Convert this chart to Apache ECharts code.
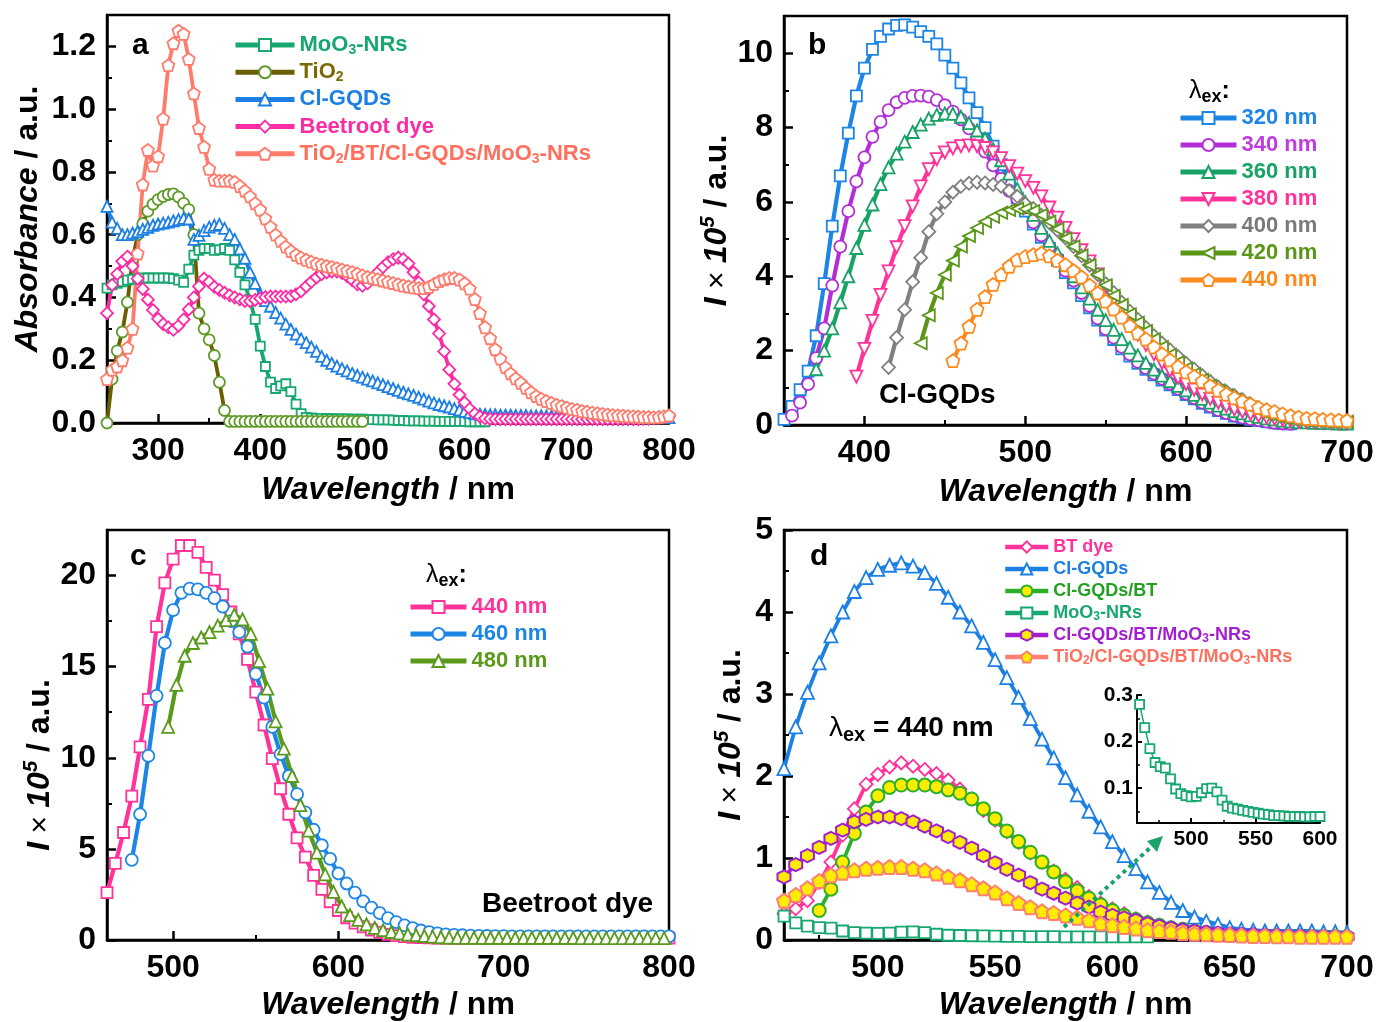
<!DOCTYPE html>
<html>
<head>
<meta charset="utf-8">
<title>Absorbance and PL spectra</title>
<script src="https://cdn.jsdelivr.net/npm/echarts@6.0.0/dist/echarts.min.js"></script>
<style>
  html, body { margin: 0; padding: 0; background: #fff; }
  #chart { width: 1377px; height: 1022px; }
</style>
</head>
<body>
<div id="chart"></div>
<script>
const FONT = "'Liberation Sans', Arial, Helvetica, sans-serif";
const seq = (start, step, vals) => vals.map((v, i) => [start + i * step, v]);

// ---- a: absorbance, 5 nm step ----
const absStart = 250, absStep = 5;
const absMoO3 = [
  0.43,0.44,0.445,0.45,0.455,0.458,0.46,0.462,0.462,0.462,
  0.462,0.462,0.462,0.46,0.455,0.448,0.49,0.535,0.55,0.556,
  0.556,0.55,0.552,0.556,0.55,0.52,0.48,0.44,0.39,0.33,
  0.245,0.18,0.13,0.11,0.118,0.125,0.10,0.06,0.03,0.018,
  0.016,0.015,0.015,0.014,0.014,0.013,0.013,0.013,0.012,0.012,
  0.012,0.011,0.011,0.01,0.01,0.01,0.009,0.008,0.008,0.007,
  0.007,0.007,0.006,0.006,0.006,0.005,0.005,0.005,0.005,0.005,
  0.005,0.004,0.004,0.004,0.004];
const absTiO2 = [
  0.0,0.14,0.23,0.29,0.385,0.52,0.60,0.635,0.675,0.697,
  0.712,0.722,0.728,0.73,0.72,0.70,0.68,0.60,0.35,0.30,
  0.265,0.215,0.13,0.04,0.005,0.005,0.005,0.005,0.005,0.005,
  0.005,0.005,0.005,0.005,0.005,0.005,0.005,0.005,0.005,0.005,
  0.005,0.005,0.005,0.005,0.005,0.005,0.005,0.005,0.005,0.005,
  0.005];
const absGQD = [
  0.69,0.64,0.62,0.60,0.60,0.605,0.61,0.617,0.623,0.63,
  0.634,0.637,0.64,0.644,0.648,0.652,0.65,0.585,0.598,0.613,
  0.624,0.63,0.633,0.62,0.60,0.585,0.555,0.525,0.48,0.445,
  0.41,0.39,0.372,0.352,0.334,0.315,0.298,0.283,0.268,0.256,
  0.242,0.228,0.212,0.2,0.19,0.181,0.173,0.166,0.158,0.152,
  0.146,0.14,0.134,0.128,0.122,0.116,0.11,0.104,0.098,0.093,
  0.088,0.082,0.076,0.07,0.064,0.059,0.055,0.051,0.046,0.042,
  0.037,0.033,0.03,0.028,0.027,0.026,0.026,0.025,0.025,0.025,
  0.024,0.024,0.024,0.023,0.023,0.023,0.022,0.022,0.022,0.022,
  0.021,0.021,0.021,0.02,0.02,0.02,0.02,0.019,0.019,0.019,
  0.019,0.018,0.018,0.018,0.018,0.018,0.017,0.017,0.017,0.017,
  0.017];
const absBeet = [
  0.35,0.44,0.475,0.515,0.53,0.50,0.46,0.427,0.393,0.36,
  0.332,0.315,0.305,0.297,0.31,0.33,0.362,0.40,0.435,0.46,
  0.45,0.434,0.424,0.415,0.407,0.40,0.394,0.389,0.388,0.392,
  0.397,0.401,0.403,0.403,0.403,0.403,0.404,0.41,0.42,0.435,
  0.45,0.464,0.474,0.48,0.483,0.483,0.478,0.468,0.455,0.442,
  0.437,0.445,0.462,0.48,0.497,0.512,0.522,0.527,0.522,0.508,
  0.48,0.448,0.41,0.372,0.33,0.285,0.228,0.17,0.125,0.09,
  0.065,0.045,0.03,0.02,0.015,0.013,0.012,0.012,0.012,0.012,
  0.012,0.012,0.012,0.012,0.012,0.012,0.012,0.012,0.012,0.012,
  0.012,0.012,0.012,0.012,0.012,0.012,0.012,0.012,0.012,0.012,
  0.012,0.012,0.012,0.012,0.012,0.013,0.014,0.015,0.017,0.019,
  0.022];
const absComposite = [
  0.14,0.17,0.18,0.20,0.24,0.30,0.54,0.76,0.87,0.82,
  0.85,0.97,1.14,1.21,1.25,1.24,1.16,1.05,0.94,0.88,
  0.81,0.775,0.772,0.772,0.772,0.768,0.755,0.74,0.722,0.70,
  0.68,0.652,0.625,0.60,0.58,0.562,0.548,0.536,0.527,0.52,
  0.514,0.508,0.504,0.50,0.497,0.493,0.489,0.485,0.481,0.476,
  0.47,0.465,0.462,0.458,0.454,0.45,0.446,0.442,0.438,0.435,
  0.432,0.43,0.43,0.434,0.443,0.452,0.458,0.462,0.462,0.457,
  0.445,0.428,0.395,0.35,0.305,0.27,0.235,0.205,0.178,0.158,
  0.142,0.128,0.112,0.098,0.086,0.077,0.07,0.064,0.058,0.054,
  0.049,0.045,0.042,0.038,0.036,0.033,0.031,0.029,0.027,0.025,
  0.024,0.023,0.022,0.021,0.02,0.019,0.019,0.018,0.019,0.021,
  0.024];

// ---- b: Cl-GQDs PL, 5 nm step ----
const gqdStarts = [350, 355, 370, 395, 415, 435, 455];
const gqd320 = [
  0.15,0.5,0.95,1.45,2.4,3.8,5.35,6.7,7.85,8.85,
  9.6,10.1,10.45,10.65,10.75,10.76,10.7,10.58,10.45,10.25,
  9.95,9.6,9.2,8.8,8.4,8.0,7.5,7.0,6.55,6.1,
  5.75,5.4,5.05,4.75,4.43,4.1,3.82,3.48,3.15,2.82,
  2.55,2.3,2.05,1.85,1.66,1.5,1.35,1.21,1.08,0.95,
  0.82,0.7,0.58,0.48,0.39,0.31,0.24,0.19,0.15,0.12,
  0.09,0.06,0.04,0.03];
const gqd340 = [
  0.25,0.6,1.1,1.8,2.6,3.75,4.8,5.75,6.55,7.2,
  7.75,8.15,8.47,8.68,8.8,8.85,8.86,8.83,8.74,8.6,
  8.43,8.22,7.98,7.7,7.35,6.98,6.62,6.3,6.08,5.85,
  5.45,5.1,4.8,4.48,4.15,3.88,3.55,3.2,2.87,2.58,
  2.35,2.1,1.9,1.7,1.53,1.38,1.24,1.11,0.97,0.84,
  0.72,0.6,0.5,0.4,0.32,0.25,0.2,0.16,0.13,0.09,
  0.06,0.04,0.03];
const gqd360 = [
  1.5,2.0,2.6,3.3,4.0,4.76,5.38,5.93,6.48,6.93,
  7.3,7.62,7.88,8.08,8.24,8.34,8.38,8.37,8.29,8.12,
  7.92,7.7,7.42,7.12,6.76,6.35,6.0,5.65,5.3,4.95,
  4.62,4.3,4.0,3.7,3.4,3.1,2.82,2.56,2.31,2.08,
  1.87,1.67,1.49,1.33,1.18,1.05,0.93,0.81,0.7,0.6,
  0.52,0.44,0.37,0.31,0.26,0.22,0.18,0.15,0.12,0.1,
  0.08,0.07,0.06,0.05,0.05,0.04,0.04];
const gqd380 = [
  1.3,2.05,2.8,3.5,4.13,4.78,5.35,5.88,6.42,6.88,
  7.15,7.33,7.44,7.5,7.52,7.5,7.45,7.33,7.18,6.96,
  6.76,6.56,6.38,6.15,5.85,5.58,5.3,5.0,4.7,4.4,
  4.05,3.7,3.35,3.02,2.72,2.43,2.15,1.9,1.67,1.46,
  1.27,1.1,0.95,0.82,0.7,0.6,0.5,0.42,0.35,0.29,
  0.24,0.2,0.16,0.13,0.11,0.09,0.08,0.07,0.06,0.05,
  0.05,0.05];
const gqd400 = [
  1.55,2.35,3.1,3.85,4.5,5.2,5.68,6.0,6.26,6.42,
  6.5,6.53,6.51,6.47,6.42,6.3,6.15,5.95,5.82,5.64,
  5.44,5.24,5.03,4.8,4.55,4.3,4.05,3.8,3.56,3.3,
  3.06,2.84,2.62,2.4,2.2,2.02,1.84,1.66,1.5,1.33,
  1.17,1.02,0.9,0.79,0.68,0.57,0.47,0.38,0.31,0.25,
  0.2,0.17,0.14,0.12,0.1,0.09,0.09,0.09];
const gqd420 = [
  2.2,2.95,3.55,4.04,4.42,4.8,5.08,5.3,5.47,5.6,
  5.71,5.78,5.82,5.81,5.76,5.65,5.47,5.27,5.02,4.8,
  4.56,4.3,4.04,3.76,3.48,3.23,2.98,2.75,2.53,2.31,
  2.1,1.89,1.69,1.52,1.37,1.22,1.06,0.93,0.8,0.68,
  0.57,0.47,0.38,0.31,0.25,0.2,0.16,0.14,0.12,0.11,
  0.1,0.09,0.09,0.09];
const gqd440 = [
  1.73,2.2,2.65,3.11,3.45,3.78,4.05,4.27,4.44,4.53,
  4.58,4.62,4.55,4.43,4.31,4.15,3.98,3.76,3.55,3.33,
  3.12,2.9,2.67,2.47,2.31,2.1,1.91,1.75,1.57,1.43,
  1.31,1.18,1.05,0.94,0.83,0.73,0.64,0.56,0.47,0.41,
  0.36,0.3,0.25,0.21,0.18,0.17,0.15,0.14,0.13,0.12];

// ---- c: beetroot dye PL, 5 nm step ----
const btStarts = [460, 475, 497];
const bt440 = [
  2.6,4.2,5.9,7.9,10.6,13.2,17.2,19.6,20.9,21.65,
  21.65,21.27,20.45,19.75,18.95,18.0,16.8,15.4,13.6,11.8,
  9.95,8.3,6.9,5.6,4.55,3.55,2.78,2.1,1.62,1.22,
  0.93,0.72,0.55,0.42,0.31,0.24,0.19,0.15,0.13,0.12,
  0.11,0.1,0.1,0.1,0.1,0.1,0.1,0.1,0.1,0.1,
  0.1,0.1,0.1,0.1,0.1,0.1,0.1,0.1,0.1,0.1,
  0.1,0.1,0.1,0.1,0.1,0.1,0.1,0.1,0.1];
const bt460 = [
  4.4,6.9,10.1,13.4,16.3,18.1,19.05,19.28,19.24,19.05,
  18.76,18.3,17.5,16.9,16.1,14.6,13.3,11.7,10.2,9.0,
  8.0,7.0,6.05,5.2,4.45,3.65,3.1,2.6,2.12,1.78,
  1.48,1.2,0.98,0.8,0.65,0.52,0.43,0.36,0.31,0.28,
  0.26,0.24,0.23,0.22,0.21,0.21,0.2,0.2,0.2,0.2,
  0.2,0.2,0.2,0.2,0.2,0.2,0.2,0.2,0.2,0.2,
  0.2,0.2,0.2,0.2,0.2,0.2];
const bt480 = [
  11.7,14.0,15.6,16.3,16.6,16.9,17.25,17.55,17.85,17.6,
  16.8,15.3,13.8,12.0,10.5,9.0,7.4,6.0,4.8,3.6,
  2.64,1.85,1.37,1.1,0.86,0.67,0.54,0.44,0.36,0.3,
  0.26,0.22,0.18,0.15,0.13,0.12,0.12,0.12,0.11,0.11,
  0.11,0.11,0.11,0.11,0.11,0.11,0.11,0.11,0.11,0.11,
  0.1,0.1,0.1,0.1,0.1,0.1,0.1,0.1,0.1,0.1,
  0.1];

// ---- d: PL of the components at 440 nm excitation, 5 nm step ----
const mixStarts = [460, 460, 475, 460, 460, 460];
const mixBT = [
  0.32,0.38,0.48,0.7,0.95,1.28,1.6,1.9,2.02,2.11,
  2.16,2.12,2.08,2.03,1.95,1.84,1.72,1.58,1.46,1.32,
  1.19,1.06,0.95,0.84,0.74,0.64,0.53,0.45,0.38,0.32,
  0.26,0.22,0.18,0.15,0.13,0.11,0.1,0.085,0.075,0.07,
  0.065,0.06,0.06,0.055,0.05,0.05,0.045,0.045,0.04];
const mixGQD = [
  2.09,2.6,3.02,3.38,3.71,4.0,4.25,4.42,4.52,4.57,
  4.6,4.56,4.48,4.35,4.18,4.0,3.83,3.63,3.42,3.2,
  2.96,2.7,2.45,2.22,1.98,1.77,1.57,1.38,1.2,1.03,
  0.87,0.71,0.58,0.46,0.36,0.28,0.23,0.19,0.15,0.13,
  0.12,0.11,0.11,0.11,0.11,0.11,0.1,0.1,0.09];
const mixGQDBT = [
  0.36,0.62,0.95,1.3,1.56,1.76,1.86,1.89,1.89,1.89,
  1.87,1.83,1.79,1.72,1.6,1.48,1.33,1.2,1.07,0.95,
  0.83,0.71,0.6,0.51,0.43,0.36,0.3,0.25,0.21,0.18,
  0.15,0.13,0.11,0.09,0.075,0.065,0.06,0.055,0.05,0.05,
  0.045,0.045,0.04,0.04,0.04,0.04];
const mixMoO3 = [
  0.29,0.21,0.17,0.15,0.145,0.11,0.09,0.084,0.081,0.085,
  0.097,0.1,0.09,0.07,0.058,0.055,0.052,0.05,0.048,0.045,
  0.043,0.041,0.041,0.04,0.039,0.039,0.038,0.039,0.039,0.038,
  0.038,0.037];
const mixTernary = [
  0.77,0.92,1.03,1.13,1.24,1.34,1.44,1.47,1.5,1.5,
  1.48,1.44,1.39,1.33,1.26,1.19,1.12,1.03,0.94,0.86,
  0.79,0.7,0.62,0.57,0.51,0.45,0.4,0.34,0.3,0.27,
  0.24,0.2,0.17,0.145,0.125,0.11,0.095,0.085,0.075,0.07,
  0.065,0.06,0.055,0.05,0.05,0.045,0.045,0.04,0.04];
const mixQuaternary = [
  0.48,0.55,0.63,0.72,0.79,0.82,0.85,0.87,0.88,0.89,
  0.89,0.87,0.85,0.81,0.77,0.73,0.68,0.63,0.58,0.51,
  0.45,0.4,0.35,0.33,0.3,0.27,0.24,0.2,0.18,0.16,
  0.14,0.12,0.11,0.1,0.085,0.075,0.07,0.065,0.06,0.055,
  0.05,0.05,0.045,0.045,0.04,0.04,0.04,0.04,0.04];

// inset: MoO3-NRs PL, 4 nm step
const insetStart = 460, insetStep = 4;
const insetMoO3 = [
  0.28,0.23,0.185,0.155,0.146,0.143,0.12,0.098,0.088,0.084,
  0.081,0.082,0.09,0.099,0.1,0.092,0.074,0.061,0.057,0.055,
  0.052,0.05,0.048,0.046,0.044,0.043,0.041,0.041,0.04,0.039,
  0.039,0.039,0.038,0.038,0.039,0.039];

// ---- axes: panels a, b, c, d, inset ----
const xRanges = [[250, 800], [350, 700], [460, 800], [460, 700], [458, 600]];
const yRanges = [[0, 1.3], [0, 11], [0, 22.5], [0, 5], [0.025, 0.3]];
const xMajor = [[300,400,500,600,700,800], [400,500,600,700], [500,600,700,800], [500,550,600,650,700], [500,550,600]];
const xMinor = [[350,450,550,650,750], [450,550,650], [550,650,750], [475,525,575,625,675], [475,525,575]];
const yMajor = [[0,0.2,0.4,0.6,0.8,1.0,1.2], [0,2,4,6,8,10], [0,5,10,15,20], [0,1,2,3,4,5], [0.1,0.2,0.3]];
const yMinor = [[0.1,0.3,0.5,0.7,0.9,1.1], [1,3,5,7,9], [2.5,7.5,12.5,17.5], [0.5,1.5,2.5,3.5,4.5], [0.05,0.15,0.25]];

const RECTS = [
  {left: 107, top: 15, width: 562, height: 408},
  {left: 784, top: 16, width: 563, height: 409},
  {left: 107, top: 530, width: 562, height: 410},
  {left: 784, top: 530, width: 563, height: 410},
  {left: 1137, top: 695, width: 183, height: 128}
];

const titleRich = {
  i: {fontFamily: FONT, fontSize: 32, fontWeight: 'bold', fontStyle: 'italic', lineHeight: 38, color: '#000'},
  n: {fontFamily: FONT, fontSize: 32, fontWeight: 'bold', lineHeight: 38, color: '#000'},
  x: {fontFamily: FONT, fontSize: 30, fontWeight: 'normal', lineHeight: 38, color: '#000'},
  p: {fontFamily: FONT, fontSize: 20, fontWeight: 'bold', fontStyle: 'italic', lineHeight: 18, verticalAlign: 'top', color: '#000'}
};
const X_NAME = '{i|Wavelength}{n| / nm}';
const PL_NAME = '{i|I}{x| × }{i|10}{p|5}{n| / a.u.}';
const yNames = ['{i|Absorbance}{n| / a.u.}', PL_NAME, PL_NAME, PL_NAME];
const xGaps = [48, 48, 46, 46];
const yGaps = [60, 34, 46, 34];
const yPads = [0, 0, [0, 60, 0, 0], 0];

const grids = [];
RECTS.forEach((r, p) => grids.push(Object.assign({show: p < 4, borderColor: '#000', borderWidth: 2.5,
  backgroundColor: 'transparent', containLabel: false, outerBoundsMode: 'none'}, r)));
RECTS.forEach(r => grids.push(Object.assign({show: false, containLabel: false, outerBoundsMode: 'none'}, r)));

const xAxes = [], yAxes = [];
const fmt1 = v => v.toFixed(1);
for (let p = 0; p < 5; p++) {
  const small = p === 4;
  const lw = small ? 2 : 2.5;
  const label = {customValues: xMajor[p], margin: small ? 6 : 12, color: '#000',
    fontSize: small ? 21 : 32, fontWeight: 'bold', fontFamily: FONT};
  xAxes.push({
    type: 'value', gridIndex: p, min: xRanges[p][0], max: xRanges[p][1], position: 'bottom',
    axisLine: {show: true, onZero: false, lineStyle: {color: '#000', width: lw}},
    axisTick: {show: true, inside: true, length: small ? 5 : 9, customValues: xMajor[p], lineStyle: {color: '#000', width: lw}},
    axisLabel: label, splitLine: {show: false},
    name: small ? '' : X_NAME, nameLocation: 'middle', nameGap: xGaps[p] || 0,
    nameTextStyle: {rich: titleRich}
  });
  yAxes.push({
    type: 'value', gridIndex: p, min: yRanges[p][0], max: yRanges[p][1], position: 'left',
    axisLine: {show: true, onZero: false, lineStyle: {color: '#000', width: lw}},
    axisTick: {show: true, inside: true, length: small ? 5 : 9, customValues: yMajor[p], lineStyle: {color: '#000', width: lw}},
    axisLabel: {customValues: yMajor[p], margin: small ? 4 : 11, color: '#000',
      fontSize: small ? 21 : 32, fontWeight: 'bold', fontFamily: FONT,
      formatter: (p === 0 || p === 4) ? fmt1 : null},
    splitLine: {show: false},
    name: small ? '' : yNames[p], nameLocation: 'middle', nameGap: yGaps[p] || 0, nameRotate: 90,
    nameTextStyle: {rich: titleRich, padding: yPads[p] || 0}
  });
}
// minor ticks on twin grids
for (let p = 0; p < 5; p++) {
  const small = p === 4;
  const tick = vals => ({show: true, inside: true, length: small ? 3 : 5, customValues: vals,
    lineStyle: {color: '#000', width: small ? 1.5 : 2}});
  xAxes.push({type: 'value', gridIndex: p + 5, min: xRanges[p][0], max: xRanges[p][1], position: 'bottom',
    axisLine: {show: false}, axisLabel: {show: false}, splitLine: {show: false}, axisTick: tick(xMinor[p])});
  yAxes.push({type: 'value', gridIndex: p + 5, min: yRanges[p][0], max: yRanges[p][1], position: 'left',
    axisLine: {show: false}, axisLabel: {show: false}, splitLine: {show: false}, axisTick: tick(yMinor[p])});
}

// ---- symbols ----
const PENT = 'path://M0,-1L0.951,-0.309L0.588,0.809L-0.588,0.809L-0.951,-0.309Z';
const HEX = 'path://M0,-1L0.866,-0.5L0.866,0.5L0,1L-0.866,0.5L-0.866,-0.5Z';
const TRI_DOWN = 'path://M-1,-1L1,-1L0,1Z';
const TRI_LEFT = 'path://M-1,0L1,-1L1,1Z';

function line(name, axis, pts, color, symbol, size, o) {
  o = o || {};
  return {
    type: 'line', name: name, xAxisIndex: axis, yAxisIndex: axis, data: pts,
    symbol: symbol, symbolSize: size, showSymbol: true,
    lineStyle: {color: o.line || color, width: o.lw || 3.8},
    itemStyle: {color: o.fill || '#fff', borderColor: color, borderWidth: o.bw || 1.8},
    emphasis: {disabled: true}, animation: false, silent: true
  };
}

const YEL = '#ffec00';
const series = [
  line('a:MoO_3-NRs', 0, seq(absStart, absStep, absMoO3), '#17a870', 'rect', 9),
  line('a:TiO_2', 0, seq(absStart, absStep, absTiO2), '#5e9a28', 'circle', 11, {line: '#6b5e00'}),
  line('a:Cl-GQDs', 0, seq(absStart, absStep, absGQD), '#1c7fe3', 'triangle', 11),
  line('a:Beetroot dye', 0, seq(absStart, absStep, absBeet), '#fb2ca4', 'diamond', 12),
  line('a:TiO_2/BT/Cl-GQDs/MoO_3-NRs', 0, seq(absStart, absStep, absComposite), '#ff7b6b', PENT, 12),

  line('b:320 nm', 1, seq(gqdStarts[0], 5, gqd320), '#1c85e6', 'rect', 11, {lw: 4.2}),
  line('b:340 nm', 1, seq(gqdStarts[1], 5, gqd340), '#b22fd8', 'circle', 12, {lw: 4.2}),
  line('b:360 nm', 1, seq(gqdStarts[2], 5, gqd360), '#17a266', 'triangle', 12, {lw: 4.2}),
  line('b:380 nm', 1, seq(gqdStarts[3], 5, gqd380), '#ff3399', TRI_DOWN, 12, {lw: 4.2}),
  line('b:400 nm', 1, seq(gqdStarts[4], 5, gqd400), '#808080', 'diamond', 13, {lw: 4.2}),
  line('b:420 nm', 1, seq(gqdStarts[5], 5, gqd420), '#5a9618', TRI_LEFT, 12, {lw: 4.2}),
  line('b:440 nm', 1, seq(gqdStarts[6], 5, gqd440), '#ff8a1c', PENT, 13, {lw: 4.2}),

  line('c:440 nm', 2, seq(btStarts[0], 5, bt440), '#ff3399', 'rect', 11, {lw: 4.2}),
  line('c:460 nm', 2, seq(btStarts[1], 5, bt460), '#1c86e6', 'circle', 12, {lw: 4.2}),
  line('c:480 nm', 2, seq(btStarts[2], 5, bt480), '#5a9a1a', 'triangle', 12, {lw: 4.2}),

  line('d:BT dye', 3, seq(mixStarts[0], 5, mixBT), '#ff3399', 'diamond', 13),
  line('d:Cl-GQDs', 3, seq(mixStarts[1], 5, mixGQD), '#1c7fe3', 'triangle', 13),
  line('d:Cl-GQDs/BT', 3, seq(mixStarts[2], 5, mixGQDBT), '#2cb02c', 'circle', 13, {fill: YEL, bw: 2}),
  line('d:MoO_3-NRs', 3, seq(mixStarts[3], 5, mixMoO3), '#17a870', 'rect', 11),
  line('d:Cl-GQDs/BT/MoO_3-NRs', 3, seq(mixStarts[4], 5, mixTernary), '#a21fd0', HEX, 13, {fill: YEL, bw: 2}),
  line('d:TiO_2/Cl-GQDs/BT/MoO_3-NRs', 3, seq(mixStarts[5], 5, mixQuaternary), '#ff8070', PENT, 14, {fill: YEL, bw: 2}),

  line('inset:MoO_3-NRs', 4, seq(insetStart, insetStep, insetMoO3), '#17a870', 'rect', 9, {lw: 1.5})
];

// ---- legends ----
function legendFor(entries, left, top, fontSize, lineH, gap, iconW, iconH, iconLine) {
  const rich = {}, text = {};
  entries.forEach((e, k) => {
    const base = {color: e.color, fontFamily: FONT, fontWeight: 'bold'};
    rich['t' + k] = Object.assign({fontSize: fontSize, lineHeight: lineH}, base);
    rich['s' + k] = Object.assign({fontSize: Math.round(fontSize * 0.64), lineHeight: Math.round(lineH * 0.35), verticalAlign: 'bottom'}, base);
    const label = e.name.slice(e.name.indexOf(':') + 1);
    text[e.name] = label.split(/(_\d)/).filter(s => s).map(s =>
      s[0] === '_' ? '{s' + k + '|' + s.slice(1) + '}' : '{t' + k + '|' + s + '}').join('');
  });
  return {
    show: true, orient: 'vertical', left: left, top: top, padding: 0, itemGap: gap,
    itemWidth: iconW, itemHeight: iconH, selectedMode: false,
    lineStyle: {width: iconLine},
    data: entries.map(e => e.name), formatter: n => text[n],
    textStyle: {fontFamily: FONT, fontSize: fontSize, fontWeight: 'bold', lineHeight: lineH, rich: rich}
  };
}
const legends = [
  legendFor([
    {name: 'a:MoO_3-NRs', color: '#17a870'},
    {name: 'a:TiO_2', color: '#7a6800'},
    {name: 'a:Cl-GQDs', color: '#1c7fe3'},
    {name: 'a:Beetroot dye', color: '#fb2ca4'},
    {name: 'a:TiO_2/BT/Cl-GQDs/MoO_3-NRs', color: '#ff6f5e'}
  ], 233, 33, 22, 24, 3.2, 59, 15, 5),
  legendFor([
    {name: 'b:320 nm', color: '#1c85e6'},
    {name: 'b:340 nm', color: '#c03ce0'},
    {name: 'b:360 nm', color: '#17a266'},
    {name: 'b:380 nm', color: '#ff3399'},
    {name: 'b:400 nm', color: '#7a7a7a'},
    {name: 'b:420 nm', color: '#5a9618'},
    {name: 'b:440 nm', color: '#ff8a1c'}
  ], 1178, 106, 22, 24, 3, 56, 15, 5),
  legendFor([
    {name: 'c:440 nm', color: '#ff3399'},
    {name: 'c:460 nm', color: '#1c86e6'},
    {name: 'c:480 nm', color: '#5a9a1a'}
  ], 408, 595, 22, 24, 3, 56, 15, 5),
  legendFor([
    {name: 'd:BT dye', color: '#ff3399'},
    {name: 'd:Cl-GQDs', color: '#1c7fe3'},
    {name: 'd:Cl-GQDs/BT', color: '#22a022'},
    {name: 'd:MoO_3-NRs', color: '#17a870'},
    {name: 'd:Cl-GQDs/BT/MoO_3-NRs', color: '#a21fd0'},
    {name: 'd:TiO_2/Cl-GQDs/BT/MoO_3-NRs', color: '#ff6f5e'}
  ], 1003, 537, 18, 20, 2, 43, 14, 4.5)
];

// ---- texts and arrow ----
function label(x, y, text, size) {
  return {type: 'text', x: x, y: y, z: 100, silent: true,
    style: {text: text, fill: '#000', font: 'bold ' + size + 'px ' + FONT, align: 'left', verticalAlign: 'middle'}};
}
function lambdaEx(x, y, tail, size) {
  const sub = Math.round(size * 0.72);
  return {type: 'text', x: x, y: y, z: 100, silent: true,
    style: {text: '{l|λ}{s|ex}{t|' + tail + '}', align: 'left', verticalAlign: 'middle', fill: '#000',
      rich: {
        l: {fontFamily: FONT, fontSize: size, fontWeight: 'normal', lineHeight: size + 6, fill: '#000'},
        s: {fontFamily: FONT, fontSize: sub, fontWeight: 'bold', lineHeight: 12, verticalAlign: 'bottom', fill: '#000'},
        t: {fontFamily: FONT, fontSize: size, fontWeight: 'bold', lineHeight: size + 6, fill: '#000'}
      }}};
}
const ARROW = '#1aa36a';
const graphics = [
  label(132, 46, 'a', 30), label(808, 46, 'b', 30), label(130, 557, 'c', 30), label(810, 557, 'd', 30),
  label(879, 395, 'Cl-GQDs', 28), label(482, 904, 'Beetroot dye', 28),
  lambdaEx(1189, 91, ':', 25), lambdaEx(426, 575, ':', 25), lambdaEx(829, 728, ' = 440 nm', 28),
  {type: 'line', z: 100, silent: true, shape: {x1: 1064, y1: 927, x2: 1151, y2: 847},
    style: {stroke: ARROW, lineWidth: 4, lineDash: [4, 4]}},
  {type: 'polygon', z: 100, silent: true, shape: {points: [[1163, 836], [1147, 841], [1157, 852]]},
    style: {fill: ARROW}}
];

const chart = echarts.init(document.getElementById('chart'), null, {renderer: 'canvas', width: 1377, height: 1022});
chart.setOption({
  animation: false,
  backgroundColor: '#fff',
  textStyle: {fontFamily: FONT},
  grid: grids,
  xAxis: xAxes,
  yAxis: yAxes,
  legend: legends,
  series: series,
  graphic: graphics
});
</script>
</body>
</html>
